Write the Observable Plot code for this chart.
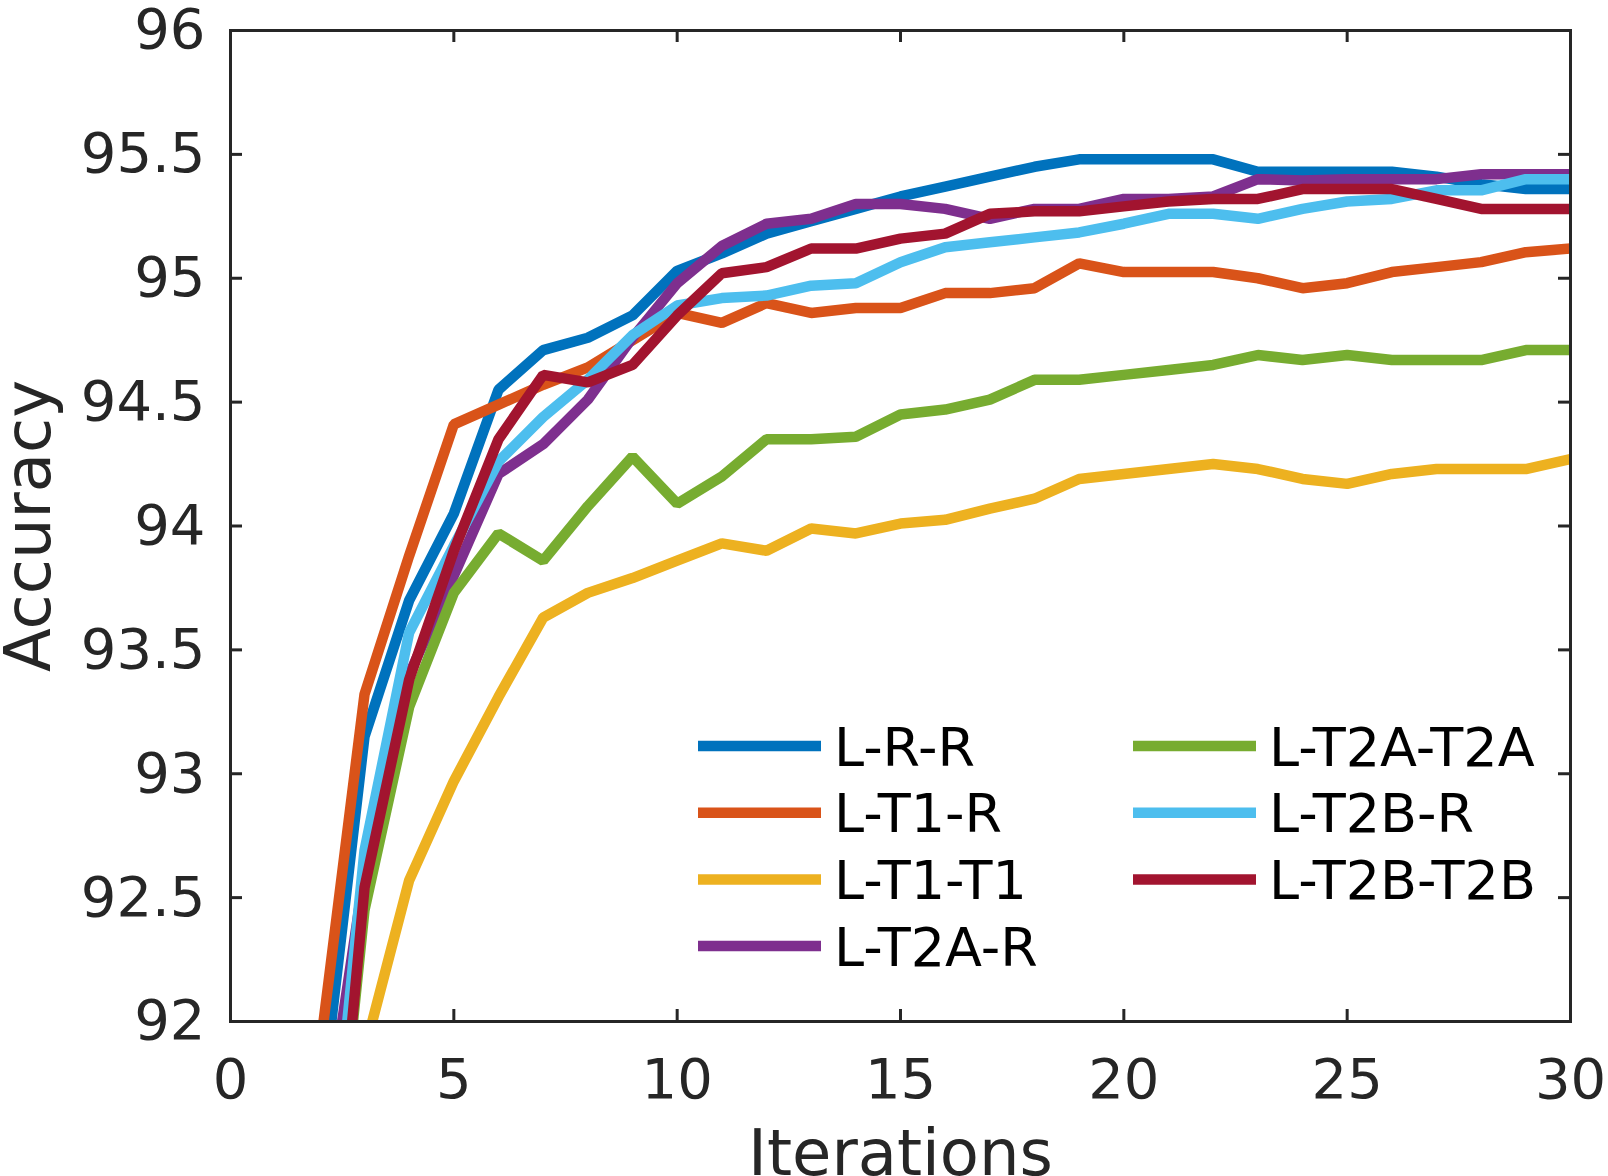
<!DOCTYPE html>
<html>
<head>
<meta charset="utf-8">
<script src="https://cdn.jsdelivr.net/npm/d3@7"></script>
<script src="https://cdn.jsdelivr.net/npm/@observablehq/plot@0.6"></script>
<style>
  html, body { margin: 0; padding: 0; background: #fff; overflow: hidden; }
  #chart { width: 1608px; height: 1176px; }
</style>
</head>
<body>
<div id="chart"></div>
<script>
// ---------- data ----------
const iterations = [2,3,4,5,6,7,8,9,10,11,12,13,14,15,16,17,18,19,20,21,22,23,24,25,26,27,28,29,30];

const seriesNames = ["L-R-R", "L-T1-R", "L-T1-T1", "L-T2A-R", "L-T2A-T2A", "L-T2B-R", "L-T2B-T2B"];
const seriesColors = ["#0072BD", "#D95319", "#EDB120", "#7E2F8E", "#77AC30", "#4DBEEE", "#A2142F"];

const accLRR = [91.6, 93.15, 93.70, 94.05, 94.55, 94.71, 94.76, 94.85, 95.03, 95.10, 95.18, 95.23, 95.28, 95.33, 95.37, 95.41, 95.45, 95.48, 95.48, 95.48, 95.48, 95.43, 95.43, 95.43, 95.43, 95.41, 95.38, 95.36, 95.36];
const accLT1R = [91.88, 93.32, 93.88, 94.41, 94.49, 94.57, 94.64, 94.75, 94.86, 94.82, 94.90, 94.86, 94.88, 94.88, 94.94, 94.94, 94.96, 95.06, 95.025, 95.025, 95.025, 95.00, 94.96, 94.98, 95.025, 95.045, 95.065, 95.105, 95.12];
const accLT1T1 = [90.5, 91.88, 92.57, 92.97, 93.31, 93.63, 93.73, 93.79, 93.86, 93.93, 93.90, 93.99, 93.97, 94.01, 94.025, 94.07, 94.11, 94.19, 94.21, 94.23, 94.25, 94.23, 94.19, 94.17, 94.21, 94.23, 94.23, 94.23, 94.27];
const accLT2AR = [91.4, 92.6, 93.40, 93.80, 94.21, 94.33, 94.51, 94.76, 94.98, 95.13, 95.22, 95.24, 95.30, 95.30, 95.28, 95.24, 95.28, 95.28, 95.32, 95.32, 95.33, 95.40, 95.395, 95.40, 95.40, 95.40, 95.42, 95.42, 95.42];
const accLT2AT2A = [90.7, 92.45, 93.27, 93.73, 93.97, 93.86, 94.08, 94.28, 94.09, 94.20, 94.35, 94.35, 94.36, 94.45, 94.47, 94.51, 94.59, 94.59, 94.61, 94.63, 94.65, 94.69, 94.67, 94.69, 94.67, 94.67, 94.67, 94.71, 94.71];
const accLT2BR = [90.9, 92.69, 93.57, 93.92, 94.26, 94.44, 94.59, 94.77, 94.89, 94.92, 94.93, 94.97, 94.98, 95.065, 95.125, 95.145, 95.165, 95.185, 95.22, 95.26, 95.26, 95.24, 95.28, 95.31, 95.32, 95.355, 95.355, 95.40, 95.40];
const accLT2BT2B = [90.58, 92.54, 93.38, 93.90, 94.35, 94.61, 94.58, 94.65, 94.85, 95.02, 95.045, 95.12, 95.12, 95.16, 95.18, 95.26, 95.27, 95.27, 95.29, 95.31, 95.32, 95.32, 95.36, 95.36, 95.36, 95.32, 95.28, 95.28, 95.28];

const xTicks = [0, 5, 10, 15, 20, 25, 30];
const yTicks = [92, 92.5, 93, 93.5, 94, 94.5, 95, 95.5, 96];
const yTickLabels = ["92", "92.5", "93", "93.5", "94", "94.5", "95", "95.5", "96"];

// ---------- table for the library ----------
const seriesValues = [accLRR, accLT1R, accLT1T1, accLT2AR, accLT2AT2A, accLT2BR, accLT2BT2B];
const rows = [];
seriesNames.forEach((name, k) => {
  seriesValues[k].forEach((v, i) => rows.push({series: name, iter: iterations[i], acc: v}));
});

// ---------- layout ----------
const W = 1608, H = 1176;
const mL = 230, mR = 38, mT = 30, mB = 155;
const innerW = W - mL - mR, innerH = H - mT - mB;
const tickLen = 12;
const ink = "#262626";
const font = "'DejaVu Sans', 'Liberation Sans', sans-serif";
const lineW = 10.5;

const chart = Plot.plot({
  width: W,
  height: H,
  marginLeft: mL,
  marginRight: mR,
  marginTop: mT,
  marginBottom: mB,
  style: {fontFamily: font, background: "white", color: ink},
  x: {domain: [0, 30]},
  y: {domain: [92, 96]},
  color: {domain: seriesNames, range: seriesColors},
  marks: [
    Plot.line(rows, {
      x: "iter", y: "acc", z: "series", stroke: "series",
      strokeWidth: lineW, strokeLinejoin: "miter", strokeLinecap: "butt", clip: true
    }),
    Plot.ruleX(xTicks, {x: d => d, insetTop: innerH - tickLen, stroke: ink, strokeWidth: 3}),
    Plot.ruleX(xTicks, {x: d => d, insetBottom: innerH - tickLen, stroke: ink, strokeWidth: 3}),
    Plot.ruleY(yTicks, {y: d => d, insetRight: innerW - tickLen, stroke: ink, strokeWidth: 3}),
    Plot.ruleY(yTicks, {y: d => d, insetLeft: innerW - tickLen, stroke: ink, strokeWidth: 3}),
    Plot.frame({stroke: ink, strokeWidth: 3}),
    Plot.axisX(xTicks, {tickSize: 0, tickPadding: 37, fontSize: 56, label: null, fill: ink, tickFormat: d => String(d)}),
    Plot.axisY(yTicks, {tickSize: 0, tickPadding: 25, fontSize: 56, label: null, fill: ink,
      tickFormat: d => yTickLabels[yTicks.indexOf(d)]}),
    Plot.text(["Accuracy"], {text: d => d, frameAnchor: "left", textAnchor: "middle", rotate: -90, dx: -201,
      lineAnchor: "middle", fontSize: 64, fill: ink}),
    Plot.text(["Iterations"], {text: d => d, frameAnchor: "bottom", textAnchor: "middle", dy: 153,
      lineAnchor: "bottom", fontSize: 64, fill: ink})
  ]
});

document.getElementById("chart").appendChild(chart);

// ---------- legend (inside the axes, two columns, no box) ----------
const svg = d3.select(chart);
const legend = svg.append("g")
  .attr("font-family", font).attr("font-size", 54).attr("fill", "#000")
  .attr("text-anchor", "start");
const rowsPerCol = 4;
const colLineX = [698, 1133];
const lineLen = 123;
const textGap = 13;
const row0 = 746, rowStep = 66.7;
seriesNames.forEach((name, k) => {
  const col = Math.floor(k / rowsPerCol);
  const r = k % rowsPerCol;
  const cy = row0 + r * rowStep;
  const x0 = colLineX[col];
  legend.append("line")
    .attr("x1", x0).attr("x2", x0 + lineLen)
    .attr("y1", cy).attr("y2", cy)
    .attr("stroke", seriesColors[k]).attr("stroke-width", lineW);
  legend.append("text")
    .attr("x", x0 + lineLen + textGap).attr("y", cy).attr("dy", "0.365em")
    .attr("text-anchor", "start")
    .text(name);
});
</script>
</body>
</html>
